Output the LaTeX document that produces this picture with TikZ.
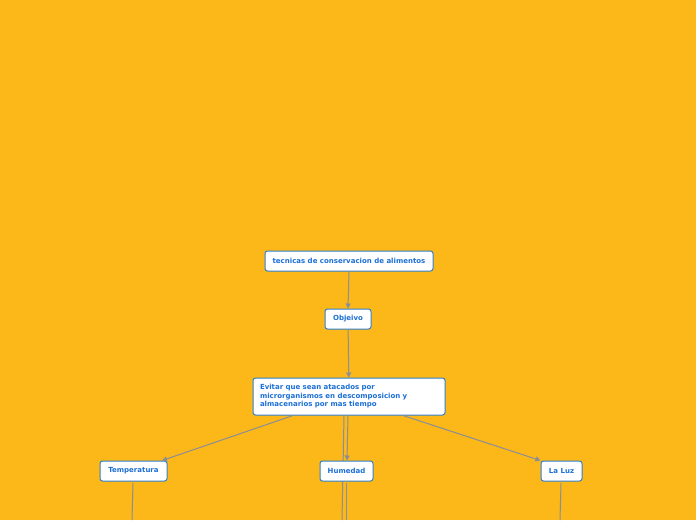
\documentclass[tikz,border=0pt]{standalone}
\usepackage{fontspec}
\setmainfont{DejaVu Sans}
\usetikzlibrary{arrows.meta}
\definecolor{bg}{HTML}{FCB719}
\definecolor{nodeblue}{HTML}{2F7FC9}
\definecolor{textblue}{HTML}{1B6FD6}
\definecolor{linegray}{HTML}{8A8E98}
\tikzset{
  x=1pt,y=-1pt,
  topic/.style={draw=nodeblue, line width=1pt, fill=white, rounded corners=2.5pt,
    font=\fontsize{7}{8.5}\selectfont\bfseries, text=textblue, inner sep=0pt, anchor=center},
  conn/.style={draw=linegray, line width=1pt},
  arr/.style={conn, -{Triangle[length=5pt,width=5pt]}}
}
\begin{document}
\begin{tikzpicture}
\fill[bg] (0,0) rectangle (696,520);
\useasboundingbox (0,0) rectangle (696,520);
% connectors
\coordinate (e1) at (344,416);
\coordinate (e2) at (348,416);
\coordinate (b1) at (342,520);
\coordinate (b2) at (346,520);
\coordinate (bt) at (132,520);
\coordinate (bl) at (560,520);
\coordinate (h1) at (346,483);
\coordinate (t1) at (133,483);
\coordinate (l1) at (561,483);
\draw[conn] (e1) -- (b1);
\draw[conn] (h1) -- (b2);
\draw[conn] (t1) -- (bt);
\draw[conn] (l1) -- (bl);
% nodes
\node[topic, minimum width=168, minimum height=20] (root) at (349,261) {tecnicas de conservacion de alimentos};
\node[topic, minimum width=46, minimum height=20] (obj) at (348,319) {Objeivo};
\node[topic, minimum width=192, minimum height=37, text width=178, align=left] (evi) at (349,396.5)
  {Evitar que sean atacados por\\microrganismos en descomposicion y\\almacenarios por mas tiempo};
\node[topic, minimum width=67, minimum height=20] (temp) at (133.5,471) {Temperatura};
\node[topic, minimum width=53, minimum height=20] (hum) at (346.5,471) {Humedad};
\node[topic, minimum width=41, minimum height=20] (luz) at (561.5,471) {La Luz};
\draw[arr] (root.south -| 349,0) -- (obj.north -| 348,0);
\draw[arr] (obj) -- (evi);
\draw[arr] (evi.south -| 293,0) -- (temp.north -| 162,0);
\draw[arr] (evi.south -| 403,0) -- (luz.north west);
\draw[arr] (e2) -- (hum.north -| 347,0);
\end{tikzpicture}
\end{document}
